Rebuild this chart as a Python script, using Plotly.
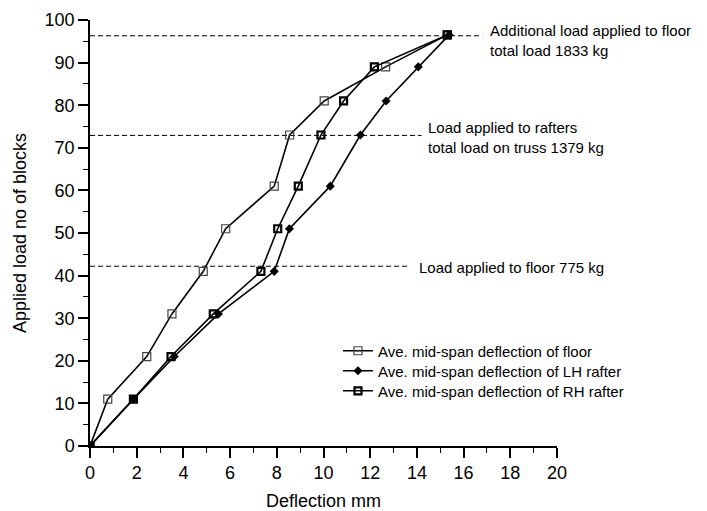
import plotly.graph_objects as go

# Data
load_blocks = [0, 11, 21, 31, 41, 51, 61, 73, 81, 89, 96.5]
floor_defl = [0, 0.76, 2.43, 3.51, 4.85, 5.81, 7.89, 8.55, 10.03, 12.66, 15.3]
lh_defl = [0, 1.86, 3.61, 5.5, 7.89, 8.54, 10.29, 11.58, 12.68, 14.06, 15.38]
rh_defl = [0, 1.86, 3.47, 5.28, 7.32, 8.04, 8.92, 9.89, 10.86, 12.18, 15.3]

series_names = ["Ave. mid-span deflection of floor",
                "Ave. mid-span deflection of LH rafter",
                "Ave. mid-span deflection of RH rafter"]

ref_levels = [42.2, 72.9, 96.3]
ref_ends = [13.7, 14.2, 16.8]
ref_texts = ["Load applied to floor 775 kg",
             "Load applied to rafters<br>total load on truss 1379 kg",
             "Additional load applied to floor<br>total load 1833 kg"]
ref_text_x = [14.0, 14.4, 17.05]
ref_text_y = [42.0, 72.4, 95.3]

FONT = "Liberation Sans, Arial, Helvetica, sans-serif"

fig = go.Figure()

# dashed reference lines
for lvl, xe in zip(ref_levels, ref_ends):
    fig.add_trace(go.Scatter(x=[0, xe], y=[lvl, lvl], mode="lines",
                             line=dict(color="black", width=1, dash="5px,3px"),
                             showlegend=False, hoverinfo="skip"))

fig.add_trace(go.Scatter(x=floor_defl, y=load_blocks, mode="lines+markers",
                         name=series_names[0], legend="legend",
                         line=dict(color="black", width=1.6),
                         marker=dict(symbol="square-open-dot", size=8, color="#444",
                                     line=dict(width=1.2, color="#444"))))
fig.add_trace(go.Scatter(x=lh_defl, y=load_blocks, mode="lines+markers",
                         name=series_names[1], legend="legend2",
                         line=dict(color="black", width=1.6),
                         marker=dict(symbol="diamond", size=7, color="black")))
fig.add_trace(go.Scatter(x=rh_defl, y=load_blocks, mode="lines+markers",
                         name=series_names[2], legend="legend3",
                         line=dict(color="black", width=1.6),
                         marker=dict(symbol="square-open", size=7, color="black",
                                     line=dict(width=2.2, color="black"))))

for tx, ty, t in zip(ref_text_x, ref_text_y, ref_texts):
    fig.add_annotation(x=tx, y=ty, text=t, showarrow=False, xanchor="left",
                       yanchor="middle", align="left",
                       font=dict(family=FONT, size=15, color="black"))

leg_common = dict(x=0.531, xanchor="left", yanchor="middle",
                  bgcolor="rgba(0,0,0,0)", font=dict(family=FONT, size=15))

fig.update_layout(
    width=707, height=511,
    margin=dict(l=82, r=158, t=12, b=73),
    plot_bgcolor="white", paper_bgcolor="white",
    font=dict(family=FONT, color="black"),
    showlegend=True,
    legend=dict(y=0.223, **leg_common),
    legend2=dict(y=0.176, **leg_common),
    legend3=dict(y=0.129, **leg_common),
    xaxis=dict(range=[0, 20], dtick=2, tick0=0, showgrid=False, zeroline=False,
               automargin=False,
               showline=True, linecolor="black", linewidth=1.5,
               ticks="outside", ticklen=10, tickwidth=1.5, tickcolor="black",
               minor=dict(dtick=1, ticks="outside", ticklen=5, tickwidth=1.2, tickcolor="black"),
               tickfont=dict(size=18),
               title=dict(text="Deflection mm", font=dict(size=18), standoff=12)),
    yaxis=dict(range=[0, 100], dtick=10, tick0=0, showgrid=False, zeroline=False,
               automargin=False,
               showline=True, linecolor="black", linewidth=1.5,
               ticks="outside", ticklen=10, tickwidth=1.5, tickcolor="black",
               minor=dict(dtick=5, ticks="outside", ticklen=5, tickwidth=1.2, tickcolor="black"),
               tickfont=dict(size=18),
               title=dict(text="Applied load no of blocks", font=dict(size=18), standoff=13)),
)

fig.write_html("out.html")
